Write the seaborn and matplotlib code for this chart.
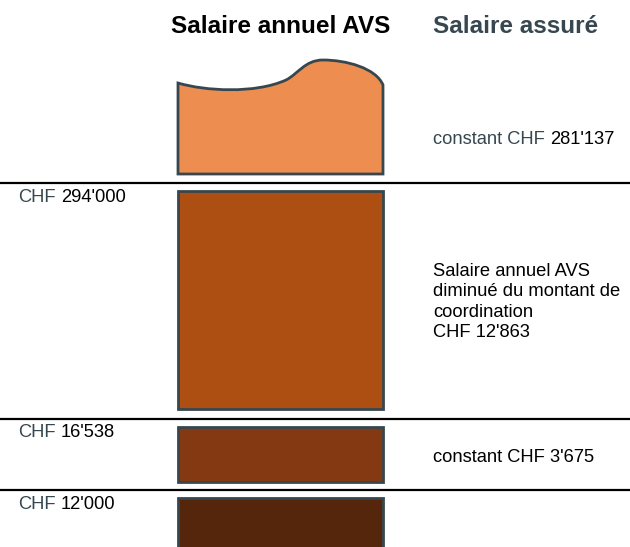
import matplotlib
matplotlib.use("Agg")
import matplotlib.pyplot as plt
from matplotlib.path import Path
from matplotlib.patches import PathPatch
import seaborn as sns

# column headings
col_titles = ["Salaire annuel AVS", "Salaire assuré"]

# AVS salary thresholds (left column)
thresholds = ["294'000", "16'538", "12'000"]

# insured salary per band (right column)
insured_text = ["constant CHF", "Salaire annuel AVS\ndiminué du montant de\ncoordination\nCHF", "constant CHF"]
insured_value = ["281'137", "12'863", "3'675"]

band_colors = ["#EE8D50", "#AD4E12", "#843912", "#56260C"]
slate = "#37474F"

sns.set_theme(style="white")
plt.rcParams["font.family"] = ["Liberation Sans", "DejaVu Sans"]

fig = plt.figure(figsize=(6.3, 5.47), dpi=100)
ax = fig.add_axes([0, 0, 1, 1])
ax.set_xlim(0, 630)
ax.set_ylim(547, 0)
ax.axis("off")

# layout in pixel units
box_left, box_right = 178, 383
band_tops = [191, 427, 498]
band_bottoms = [409, 482, 570]
sep_lines = [182.5, 419, 490]
left_base = [202, 437, 509]
right_base = [144, 337, 462]   # last-line baselines

# top band: box with a wavy top edge
verts = [(box_left, 83),
         (205, 91), (255, 94), (286, 80),
         (298, 74), (305, 60), (323, 60),
         (346, 60), (376, 68), (box_right, 85),
         (box_right, 174), (box_left, 174), (box_left, 83)]
codes = ([Path.MOVETO] + [Path.CURVE4] * 9 +
         [Path.LINETO, Path.LINETO, Path.CLOSEPOLY])
ax.add_patch(PathPatch(Path(verts, codes), facecolor=band_colors[0],
                       edgecolor=slate, lw=2, joinstyle="miter"))

# remaining bands as bars
ax.bar([(box_left + box_right) / 2] * 3,
       [b - t for t, b in zip(band_tops, band_bottoms)],
       bottom=band_tops, width=box_right - box_left,
       color=band_colors[1:], edgecolor=slate, linewidth=2)

for y in sep_lines:
    ax.axhline(y, color="black", lw=1.6)

ax.text(280.5, 33, col_titles[0], ha="center", va="baseline",
        fontsize=17.5, fontweight="bold", color="black")
ax.text(433, 33, col_titles[1], ha="left", va="baseline",
        fontsize=17.5, fontweight="bold", color=slate)

fs = 13.2
for val, y in zip(thresholds, left_base):
    t = ax.text(18, y, "CHF", ha="left", va="baseline", fontsize=fs, color=slate)
    ax.annotate(val, xy=(1, 0), xycoords=t, xytext=(3.6, 0),
                textcoords="offset points", ha="left", va="bottom",
                fontsize=fs, color="black")

# right column
t = ax.text(433, right_base[0], insured_text[0], ha="left", va="baseline",
            fontsize=fs, color=slate)
ax.annotate(insured_value[0], xy=(1, 0), xycoords=t, xytext=(3.6, 0),
            textcoords="offset points", ha="left", va="bottom",
            fontsize=fs, color="black")
for txt, val, y in zip(insured_text[1:], insured_value[1:], right_base[1:]):
    ax.text(433, y, txt + " " + val, ha="left", va="baseline", fontsize=fs,
            color="black", linespacing=1.25)

fig.savefig("out.png", dpi=100)
